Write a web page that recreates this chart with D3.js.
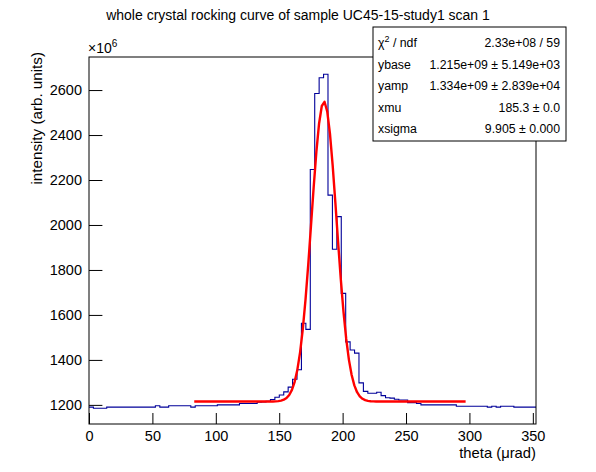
<!DOCTYPE html>
<html>
<head>
<meta charset="utf-8">
<script src="https://cdn.jsdelivr.net/npm/d3@7/dist/d3.min.js"></script>
<style>
  html, body { margin: 0; padding: 0; background: #fff; }
  svg { display: block; }
  text { font-family: "Liberation Sans", Arial, Helvetica, sans-serif; }
</style>
</head>
<body>
<svg id="chart" width="596" height="472"></svg>
<script>
// ---- data (intensity in units of 10^6) ----
const xMin = 0;
const xMax = 352.5;
const counts = [
  1190, 1185, 1185, 1185, 1190, 1190, 1190, 1190, 1190, 1190,
  1190, 1190, 1190, 1190, 1190, 1196, 1190, 1190, 1196, 1196,
  1196, 1196, 1196, 1190, 1196, 1196, 1196, 1196, 1196, 1200,
  1200, 1200, 1200, 1200, 1206, 1206, 1206, 1206, 1212, 1213,
  1216, 1224, 1234, 1244, 1258, 1279, 1314, 1356, 1563, 1536,
  2247, 2585, 2655, 2670, 2133, 1892, 2037, 1696, 1480, 1444,
  1430, 1298, 1260, 1252, 1252, 1256, 1241, 1232, 1230, 1225,
  1222, 1222, 1210, 1210, 1206, 1200, 1200, 1200, 1200, 1200,
  1200, 1200, 1200, 1194, 1194, 1194, 1194, 1194, 1194, 1194,
  1190, 1194, 1190, 1194, 1194, 1194, 1190, 1190, 1190, 1190,
  1190
];
const yMin = 1115;
const yMax = 2747;
const xMajorTicks = [0, 50, 100, 150, 200, 250, 300, 350];
const xMinorTicks = d3.range(0, 351, 10);
const yMajorTicks = [1200, 1400, 1600, 1800, 2000, 2200, 2400, 2600];
const yMinorTicks = d3.range(1120, 2741, 40);

// fit parameters (as shown in the stats box)
const fitYbase = 1215;
const fitYamp = 1334;
const fitXmu = 185.3;
const fitXsigma = 9.905;
const fitRange = [83, 297];

const statsLabels = ["χ² / ndf", "ybase", "yamp", "xmu", "xsigma"];
const statsValues = ["2.33e+08 / 59", "1.215e+09 ± 5.149e+03", "1.334e+09 ± 2.839e+04", "185.3 ± 0.0", "9.905 ± 0.000"];

const titleText = "whole crystal rocking curve of sample UC45-15-study1 scan 1";
const xTitle = "theta (μrad)";
const yTitle = "intensity (arb. units)";

// ---- layout ----
const W = 596, H = 472;
const fL = 89, fR = 536, fT = 57, fB = 424;
const FONT = "'Liberation Sans', Arial, Helvetica, sans-serif";

const svg = d3.select("#chart");
svg.append("rect").attr("width", W).attr("height", H).attr("fill", "#fff");

const x = d3.scaleLinear().domain([xMin, xMax]).range([fL, fR]);
const y = d3.scaleLinear().domain([yMin, yMax]).range([fB, fT]);

svg.append("defs").append("clipPath").attr("id", "frameClip")
  .append("rect").attr("x", fL).attr("y", fT).attr("width", fR - fL).attr("height", fB - fT);

// histogram
const binW = (xMax - xMin) / counts.length;
const histPts = [];
counts.forEach((c, i) => {
  histPts.push([xMin + i * binW, c]);
  histPts.push([xMin + (i + 1) * binW, c]);
});
const histLine = d3.line().x(d => x(d[0])).y(d => y(d[1]));
svg.append("path")
  .attr("clip-path", "url(#frameClip)")
  .attr("d", histLine(histPts))
  .attr("fill", "none")
  .attr("stroke", "#000099")
  .attr("stroke-width", 1.1);

// fit function
const fitX = d3.range(0, 101).map(k => fitRange[0] + (fitRange[1] - fitRange[0]) * k / 100);
const fitPts = fitX.map(v => [v, fitYbase + fitYamp * Math.exp(-0.5 * Math.pow((v - fitXmu) / fitXsigma, 2))]);
svg.append("path")
  .attr("clip-path", "url(#frameClip)")
  .attr("d", histLine(fitPts))
  .attr("fill", "none")
  .attr("stroke", "#ff0000")
  .attr("stroke-width", 2.4)
  .attr("stroke-linejoin", "round");

// axes
const gx = svg.append("g").attr("transform", `translate(0,${fB})`);
gx.call(d3.axisBottom(x).tickValues(xMinorTicks).tickSize(-5.5).tickFormat(""));
gx.call(d3.axisBottom(x).tickValues(xMajorTicks).tickSize(-11).tickPadding(5).tickFormat(d3.format("d")));
gx.selectAll(".domain").remove();
gx.selectAll("line").attr("stroke", "#000");
gx.selectAll("text").attr("font-family", FONT).attr("font-size", 14.5).attr("fill", "#000").attr("dy", "0.8em");

const gy = svg.append("g").attr("transform", `translate(${fL},0)`);
gy.call(d3.axisLeft(y).tickValues(yMinorTicks).tickSize(-6.7).tickFormat(""));
gy.call(d3.axisLeft(y).tickValues(yMajorTicks).tickSize(-13.4).tickPadding(7).tickFormat(d3.format("d")));
gy.selectAll(".domain").remove();
gy.selectAll("line").attr("stroke", "#000");
gy.selectAll("text").attr("font-family", FONT).attr("font-size", 14.5).attr("fill", "#000");

// frame
svg.append("rect").attr("x", fL).attr("y", fT).attr("width", fR - fL).attr("height", fB - fT)
  .attr("fill", "none").attr("stroke", "#000").attr("stroke-width", 1);

// exponent label
const ex = svg.append("text").attr("x", fL - 1).attr("y", 53).attr("font-family", FONT).attr("font-size", 14).attr("fill", "#000");
ex.append("tspan").text("×10");
ex.append("tspan").attr("dy", -6).attr("font-size", 10).text("6");

// axis titles
svg.append("text").attr("x", fR).attr("y", 458).attr("text-anchor", "end")
  .attr("font-family", FONT).attr("font-size", 14.8).attr("fill", "#000").text(xTitle);
svg.append("text").attr("transform", `translate(42,${fT - 5}) rotate(-90)`).attr("text-anchor", "end")
  .attr("font-family", FONT).attr("font-size", 15.2).attr("fill", "#000").text(yTitle);

// title
svg.append("text").attr("x", 298).attr("y", 20).attr("text-anchor", "middle")
  .attr("font-family", FONT).attr("font-size", 14).attr("fill", "#000").text(titleText);

// stats box
const bx0 = 373, by0 = 27, bx1 = 566, by1 = 141;
svg.append("rect").attr("x", bx0).attr("y", by0).attr("width", bx1 - bx0).attr("height", by1 - by0)
  .attr("fill", "#fff").attr("stroke", "#000").attr("stroke-width", 1);
const rowH = 21.6;
statsLabels.forEach((lab, i) => {
  const base = by0 + 20 + rowH * i;
  const t = svg.append("text").attr("x", bx0 + 5).attr("y", base).attr("font-family", FONT).attr("font-size", 12.3).attr("fill", "#000");
  if (lab.indexOf("²") >= 0) {
    t.append("tspan").text("χ");
    t.append("tspan").attr("dy", -5).attr("font-size", 9).text("2");
    t.append("tspan").attr("dy", 5).text(" / ndf");
  } else {
    t.text(lab);
  }
  svg.append("text").attr("x", bx1 - 6).attr("y", base).attr("text-anchor", "end")
    .attr("font-family", FONT).attr("font-size", 12.3).attr("fill", "#000").text(statsValues[i]);
});
</script>
</body>
</html>
